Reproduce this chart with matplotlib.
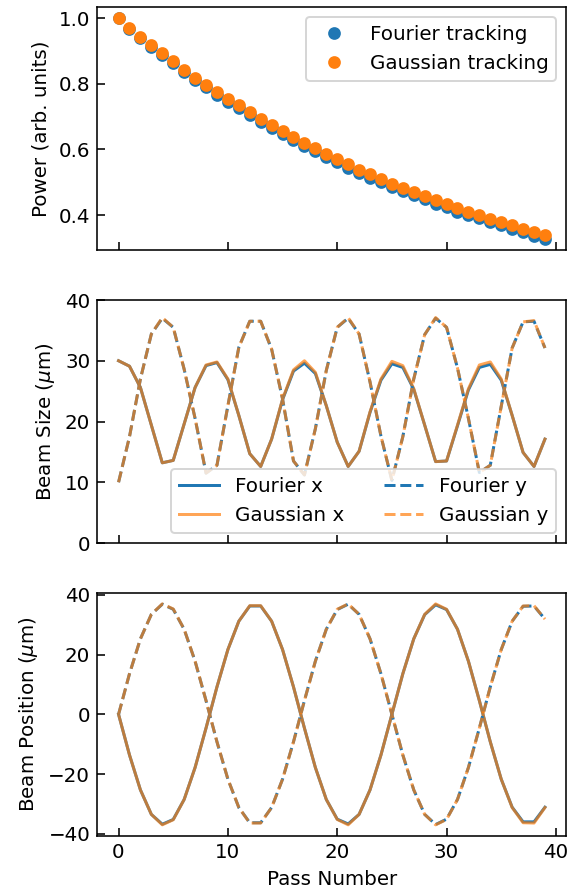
import numpy as np
import matplotlib
matplotlib.use("Agg")
import matplotlib.pyplot as plt

plt.rcParams['font.size'] = 10
plt.rcParams['xtick.direction'] = 'in'
plt.rcParams['ytick.direction'] = 'in'
plt.rcParams['xtick.major.size'] = 4
plt.rcParams['ytick.major.size'] = 4

passes = np.arange(40)

# power
power_gauss = [1.000, 0.970, 0.943, 0.917, 0.893, 0.868, 0.843, 0.819, 0.797, 0.775,
               0.755, 0.734, 0.714, 0.694, 0.674, 0.655, 0.637, 0.620, 0.603, 0.587,
               0.571, 0.555, 0.539, 0.524, 0.510, 0.496, 0.483, 0.470, 0.458, 0.445,
               0.434, 0.421, 0.411, 0.400, 0.389, 0.379, 0.369, 0.359, 0.348, 0.338]
power_fourier = [1.000, 0.968, 0.940, 0.913, 0.888, 0.862, 0.836, 0.812, 0.789, 0.766,
                 0.746, 0.725, 0.705, 0.685, 0.665, 0.646, 0.628, 0.611, 0.594, 0.578,
                 0.562, 0.545, 0.529, 0.514, 0.500, 0.486, 0.473, 0.460, 0.448, 0.435,
                 0.424, 0.411, 0.401, 0.390, 0.379, 0.369, 0.358, 0.348, 0.337, 0.327]

# beam size (um)
size_x_gauss = [30.0, 29.1, 25.6, 19.4, 13.2, 13.6, 19.6, 25.6, 29.3, 29.8,
                27.0, 21.0, 14.7, 12.6, 17.1, 23.7, 28.5, 30.0, 28.1, 22.6,
                16.6, 12.6, 15.1, 21.6, 27.0, 29.9, 29.2, 25.4, 19.4, 13.4,
                13.5, 19.4, 25.4, 29.3, 29.8, 27.0, 21.0, 14.9, 12.6, 17.1]
size_x_fourier = [30.0, 29.1, 25.6, 19.4, 13.2, 13.6, 19.6, 25.6, 29.2, 29.7,
                  26.9, 21.0, 14.7, 12.6, 17.1, 23.6, 28.3, 29.6, 27.9, 22.6,
                  16.6, 12.6, 15.1, 21.5, 26.8, 29.5, 28.9, 25.3, 19.4, 13.4,
                  13.5, 19.3, 25.2, 28.9, 29.4, 26.8, 21.0, 14.9, 12.6, 17.1]
size_y_gauss = [10.0, 17.5, 27.0, 34.4, 37.1, 35.5, 28.6, 20.5, 11.5, 12.8,
                22.6, 32.2, 36.5, 36.5, 31.9, 23.7, 13.5, 11.2, 18.8, 28.4,
                35.5, 37.1, 34.4, 26.5, 17.6, 10.3, 17.5, 27.0, 34.3, 37.1,
                35.5, 28.8, 20.5, 11.6, 12.8, 22.5, 32.1, 36.4, 36.6, 32.1]
size_y_fourier = [10.0, 17.5, 27.0, 34.4, 37.0, 35.5, 28.6, 20.5, 11.5, 12.8,
                  22.6, 32.2, 36.5, 36.5, 31.9, 23.7, 13.5, 11.2, 18.8, 28.4,
                  35.5, 37.0, 34.4, 26.5, 17.6, 10.3, 17.5, 27.0, 34.3, 37.0,
                  35.5, 28.8, 20.5, 11.6, 12.8, 22.5, 32.1, 36.4, 36.5, 32.1]

# beam position (um)
pos_x_gauss = [0.0, -13.6, -25.3, -33.5, -37.0, -35.3, -28.5, -17.8, -4.6, 9.2,
               21.7, 31.2, 36.4, 36.4, 31.2, 21.7, 9.2, -4.6, -17.8, -28.5,
               -35.2, -37.0, -33.5, -25.3, -13.6, 0.0, 13.6, 25.3, 33.5, 37.0,
               35.2, 28.5, 17.8, 4.6, -9.2, -21.7, -31.2, -36.3, -36.4, -31.2]
pos_x_fourier = [0.0, -13.6, -25.3, -33.5, -36.8, -35.2, -28.5, -17.8, -4.6, 9.2,
                 21.7, 31.2, 36.3, 36.3, 31.2, 21.7, 9.2, -4.6, -17.8, -28.5,
                 -35.1, -36.7, -33.5, -25.3, -13.6, 0.0, 13.6, 25.3, 33.4, 36.7,
                 35.1, 28.5, 17.8, 4.6, -9.2, -21.7, -31.1, -36.0, -36.0, -31.1]
pos_y_gauss = [0.0, 13.6, 25.3, 33.5, 37.0, 35.3, 28.5, 17.8, 4.6, -9.2,
               -21.7, -31.2, -36.4, -36.4, -31.2, -21.7, -9.2, 4.6, 17.8, 28.5,
               35.2, 37.0, 33.5, 25.3, 13.6, 0.0, -13.6, -25.3, -33.5, -37.0,
               -35.2, -28.5, -17.8, -4.6, 9.2, 21.7, 31.2, 36.3, 36.4, 31.9]
pos_y_fourier = [0.0, 13.6, 25.3, 33.5, 36.9, 35.2, 28.5, 17.8, 4.6, -9.2,
                 -21.7, -31.2, -36.3, -36.3, -31.2, -21.7, -9.2, 4.6, 17.8, 28.5,
                 35.1, 36.9, 33.5, 25.3, 13.6, 0.0, -13.6, -25.3, -33.5, -36.9,
                 -35.1, -28.5, -17.8, -4.6, 9.2, 21.7, 31.2, 36.2, 36.3, 31.9]

blue = '#1f77b4'
orange = '#ff7f0e'

fig, axes = plt.subplots(3, 1, figsize=(4.0, 6.252), dpi=143, sharex=True)
fig.subplots_adjust(left=0.17, right=0.99, top=0.992, bottom=0.065, hspace=0.205)

ax = axes[0]
ax.plot(passes, power_fourier, 'o', color=blue, markersize=5.4, label='Fourier tracking')
ax.plot(passes, power_gauss, 'o', color=orange, markersize=5.4, label='Gaussian tracking')
ax.set_ylabel('Power (arb. units)')
ax.legend(loc='upper right')

ax = axes[1]
ax.plot(passes, size_x_fourier, '-', color=blue, lw=1.5, label='Fourier x')
ax.plot(passes, size_x_gauss, '-', color=orange, lw=1.5, alpha=0.7, label='Gaussian x')
ax.plot(passes, size_y_fourier, '--', color=blue, lw=1.5, label='Fourier y')
ax.plot(passes, size_y_gauss, '--', color=orange, lw=1.5, alpha=0.7, label='Gaussian y')
ax.set_ylim(0, 40)
ax.set_yticks([0, 10, 20, 30, 40])
ax.set_ylabel(r'Beam Size ($\mu$m)')
ax.legend(loc='lower right', ncol=2)

ax = axes[2]
ax.plot(passes, pos_x_fourier, '-', color=blue, lw=1.5)
ax.plot(passes, pos_x_gauss, '-', color=orange, lw=1.5, alpha=0.7)
ax.plot(passes, pos_y_fourier, '--', color=blue, lw=1.5)
ax.plot(passes, pos_y_gauss, '--', color=orange, lw=1.5, alpha=0.7)
ax.set_yticks([-40, -20, 0, 20, 40])
ax.set_ylabel(r'Beam Position ($\mu$m)')
ax.set_xlabel('Pass Number')
ax.set_xticks([0, 10, 20, 30, 40])

plt.savefig('out.png', dpi=143)
